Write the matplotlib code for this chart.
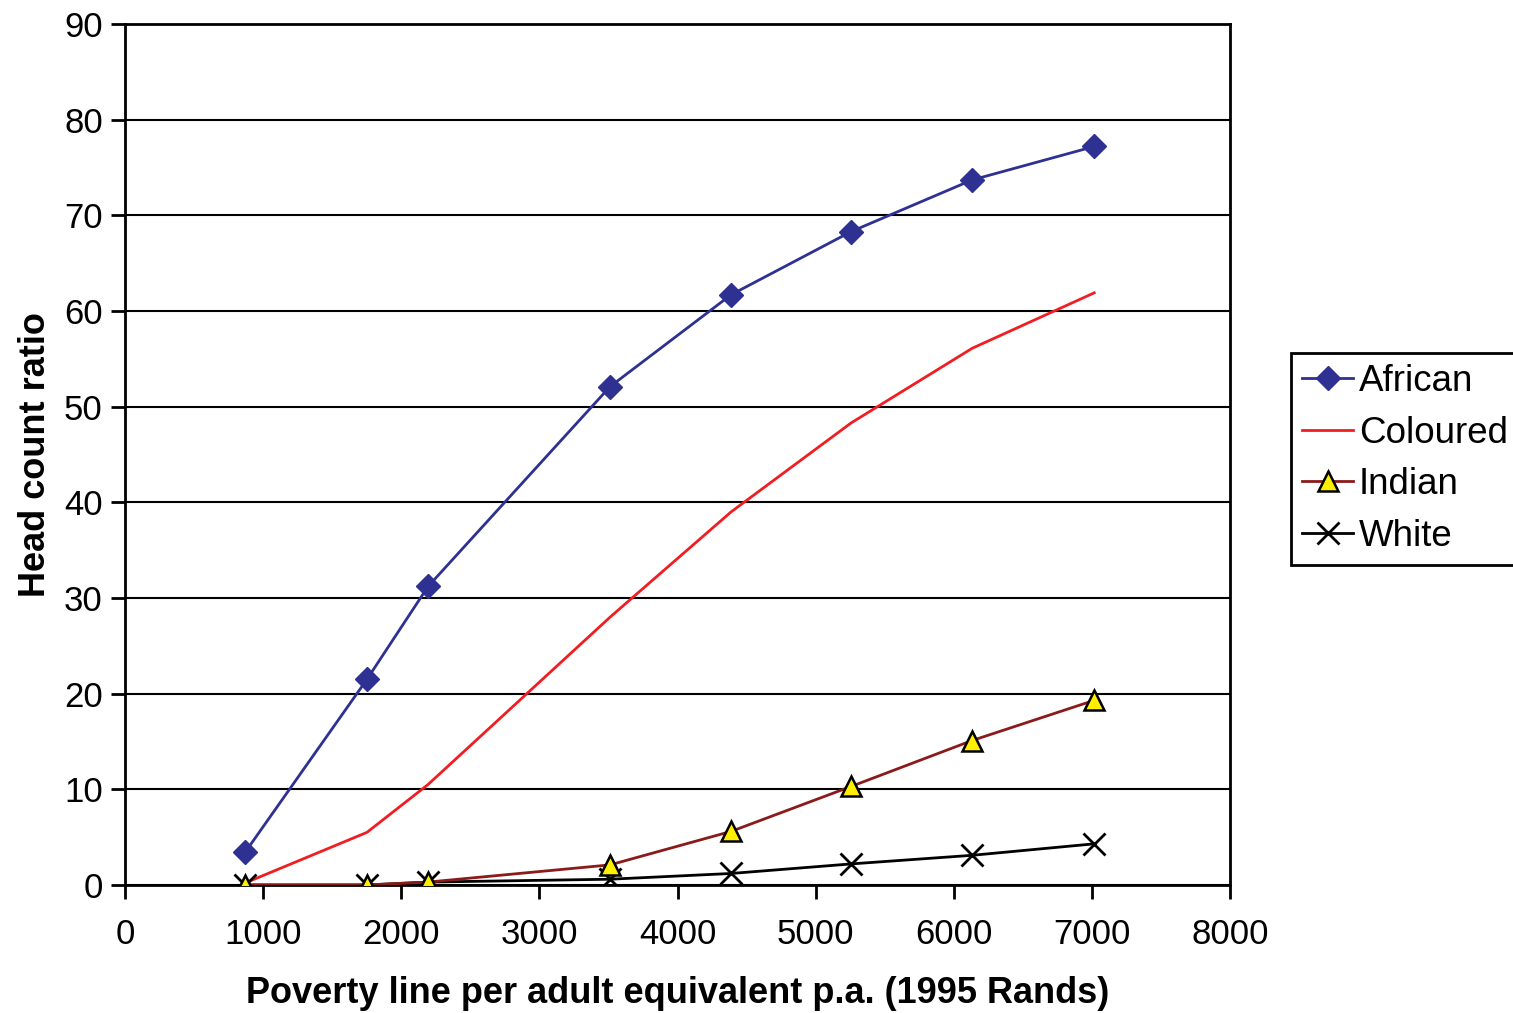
import matplotlib.pyplot as plt
import numpy as np

plt.rcParams['font.family'] = ['Liberation Sans', 'DejaVu Sans']

# Poverty lines (1995 Rands per adult equivalent p.a.)
poverty_line = [869, 1752, 2194, 3512, 4388, 5257, 6133, 7017]

# Head count ratios by population group
african = [3.4, 21.5, 31.2, 52.1, 61.7, 68.3, 73.7, 77.2]
coloured = [0.2, 5.5, 10.5, 28.0, 39.0, 48.3, 56.1, 61.9]
indian = [0.0, 0.0, 0.3, 2.1, 5.6, 10.3, 15.1, 19.3]
white = [0.0, 0.0, 0.3, 0.6, 1.2, 2.2, 3.1, 4.3]

fig = plt.figure(figsize=(15.13, 10.13), dpi=100)
ax = fig.add_axes([0.0826, 0.1264, 0.7304, 0.8499])

ax.plot(poverty_line, african, color='#2E3192', lw=2, marker='D', ms=12,
        mfc='#2E3192', mec='#2E3192', label='African', zorder=4)
ax.plot(poverty_line, coloured, color='#F01E23', lw=2, label='Coloured', zorder=3)
ax.plot(poverty_line, indian, color='#8B1A1A', lw=2, marker='^', ms=14,
        mfc='#FFEE00', mec='black', mew=1.8, label='Indian', zorder=5)
ax.plot(poverty_line, white, color='black', lw=2, marker='x', ms=16,
        mew=2, label='White', zorder=4)

ax.set_xlim(0, 8000)
ax.set_ylim(0, 90)
ax.set_xticks(np.arange(0, 8001, 1000))
ax.set_yticks(np.arange(0, 91, 10))
ax.grid(axis='y', color='black', lw=1.5)
ax.set_axisbelow(True)
for s in ax.spines.values():
    s.set_linewidth(2)
    s.set_color('black')
ax.tick_params(axis='both', direction='out', length=10, width=2, labelsize=25)
ax.tick_params(axis='x', pad=14)
ax.tick_params(axis='y', pad=6)

ax.set_xlabel('Poverty line per adult equivalent p.a. (1995 Rands)',
              fontsize=26, fontweight='bold', labelpad=18)
ax.set_ylabel('Head count ratio', fontsize=26, fontweight='bold', labelpad=8)

leg = ax.legend(loc='upper left', bbox_to_anchor=(0.8532, 0.6515),
                bbox_transform=fig.transFigure, fontsize=26.5, frameon=True,
                fancybox=False, framealpha=1, edgecolor='black',
                borderpad=0.3, labelspacing=0.45, handlelength=1.4,
                handletextpad=0.15, borderaxespad=0)
leg.get_frame().set_linewidth(2)

fig.savefig('out.png', dpi=100)
